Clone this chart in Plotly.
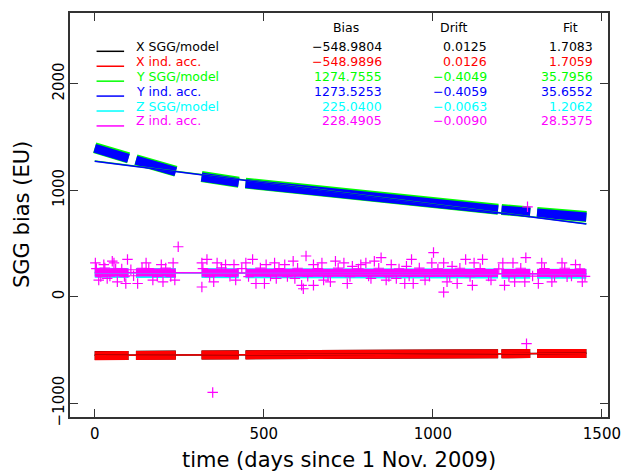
import plotly.graph_objects as go

# ---- legend table values -------------------------------------------------
series_names = ["X SGG/model", "X ind. acc.", "Y SGG/model",
                "Y ind. acc.", "Z SGG/model", "Z ind. acc."]
series_colors = ["#000000", "#ff0000", "#00ff00", "#0000ff", "#00ffff", "#ff00ff"]
bias = [-548.9804, -548.9896, 1274.7555, 1273.5253, 225.0400, 228.4905]
drift = [0.0125, 0.0126, -0.4049, -0.4059, -0.0063, -0.0090]
fit = [1.7083, 1.7059, 35.7956, 35.6552, 1.2062, 28.5375]

# ---- daily bias track (None marks gaps in the record) ---------------------
days = [0, 50, 100, None, 122, 180, 240, None, 316, 370, 426, None,
        446, 500, 600, 700, 800, 900, 1000, 1100, 1193, None,
        1203, 1250, 1288, None, 1308, 1380, 1454]

x_sgg = [-551, -550, -550, None, -549, -548, -547, None, -546, -545, -544, None,
         -544, -543, -542, -540, -539, -538, -536, -535, -534, None,
         -534, -533, -533, None, -532, -532, -531]
x_ind = [-552, -551, -550, None, -550, -549, -548, None, -547, -546, -545, None,
         -545, -544, -542, -541, -540, -538, -537, -536, -535, None,
         -535, -534, -533, None, -533, -532, -531]
y_sgg = [1399, 1351, 1304, None, 1287, 1232, 1179, None, 1129, 1102, 1076, None,
         1067, 1049, 1009, 972, 939, 907, 877, 847, 822, None,
         819, 807, 797, None, 791, 774, 754]
y_ind = [1395, 1347, 1300, None, 1283, 1228, 1175, None, 1125, 1098, 1072, None,
         1063, 1045, 1005, 968, 935, 903, 873, 843, 818, None,
         815, 803, 793, None, 787, 770, 750]
z_sgg = [225, 225, 224, None, 224, 224, 223, None, 223, 222, 222, None,
         222, 222, 221, 220, 220, 219, 219, 218, 218, None,
         217, 217, 217, None, 217, 216, 216]
z_ind = [229, 229, 228, None, 228, 228, 228, None, 227, 227, 227, None,
         227, 227, 226, 226, 226, 225, 225, 225, 224, None,
         224, 224, 224, None, 224, 223, 223]

# scattered Z ind. acc. samples away from the main track
z_out_days = [2, 12, 27, 37, 52, 57, 67, 92, 97, 107, 127, 152, 172, 197, 202, 232,
              237, 247, 317, 317, 332, 349, 352, 362, 387, 412, 417, 447, 467, 477,
              502, 507, 532, 537, 562, 587, 592, 612, 617, 625, 647, 647, 672, 677,
              697, 712, 737, 747, 762, 787, 802, 817, 827, 847, 862, 877, 892, 917,
              922, 937, 942, 977, 1002, 997, 1032, 1032, 1042, 1057, 1072, 1097,
              1117, 1122, 1147, 1172, 1207, 1212, 1237, 1242, 1272, 1275, 1277,
              1280, 1312, 1322, 1352, 1382, 1397, 1422, 1442,
              5, 18, 30, 45, 62, 80, 88, 115, 140, 160, 185, 210, 225, 320, 340,
              375, 400, 435, 455, 490, 520, 545, 570, 600, 630, 660, 690, 720, 755,
              780, 810, 840, 870, 900, 930, 960, 990, 1015, 1050, 1080, 1110, 1140,
              1165, 1195, 1225, 1260, 1295, 1330, 1360, 1390, 1410, 1435, 1450]
z_out_vals = [318, 157, 302, 173, 335, 318, 141, 125, 351, 254, 125, 318, 157, 302,
              141, 318, 157, 470, 318, 92, 351, -897, 141, 318, 302, 302, 157, 318,
              351, 125, 125, 302, 318, 173, 302, 335, 173, 108, 76, 383, 108, 302,
              318, 157, 141, 335, 318, 125, 286, 302, 318, 173, 335, 367, 157, 302,
              173, 125, 286, 351, 125, 157, 415, 318, 318, 44, 141, 286, 125, 351,
              108, 318, 351, 157, 318, 108, 318, 141, 141, 367, -440, 845, 125, 318,
              141, 318, 189, 302, 141,
              265, 190, 270, 195, 262, 262, 190, 198, 268, 265, 192, 270, 190, 265,
              190, 272, 192, 265, 190, 270, 195, 265, 190, 268, 192, 265, 195, 270,
              190, 262, 195, 268, 190, 262, 195, 270, 192, 262, 195, 268, 190, 265,
              195, 262, 190, 268, 195, 265, 190, 268, 195, 262, 192]

fit_days = [0, 1454]

x_ticks = [0, 500, 1000, 1500]
y_ticks = [-1000, 0, 1000, 2000]

tracks = [x_sgg, x_ind, y_sgg, y_ind, z_sgg, z_ind]
track_width = [9, 9, 11, 9, 10, 8]

fig = go.Figure()

for k in range(6):
    fig.add_trace(go.Scatter(
        x=days, y=tracks[k], mode="lines", name=series_names[k],
        line=dict(color=series_colors[k], width=track_width[k]),
        connectgaps=False, hoverinfo="skip"))
    if k == 5:
        fig.add_trace(go.Scatter(
            x=z_out_days, y=z_out_vals, mode="markers", name=series_names[k],
            marker=dict(symbol="cross-thin", size=7.5,
                        line=dict(color=series_colors[k], width=1.2))))

# linear fits: bias + drift * t
for k in range(6):
    fig.add_trace(go.Scatter(
        x=fit_days, y=[bias[k] + drift[k] * d for d in fit_days], mode="lines",
        line=dict(color=series_colors[k], width=1.5), hoverinfo="skip"))

# ---- page geometry --------------------------------------------------------
W, H = 632, 473
L, R, T, B = 70, 15, 11, 56
pw, ph = W - L - R, H - T - B


def px(xp):
    return (xp - L) / pw


def py(yp):
    return (H - B - yp) / ph


FONT = "DejaVu Sans"
TSIZE = 12.5
ann = []
shapes = []

# column headers
for label, xc in [("Bias", 351), ("Drift", 460), ("Fit", 579)]:
    ann.append(dict(text=label, x=px(xc), y=py(26), xanchor="center",
                    yanchor="middle", showarrow=False, borderpad=0,
                    font=dict(family=FONT, size=TSIZE, color="black")))

row0, drow = 44.5, 15.0
for k in range(6):
    yc = row0 + k * drow
    c = series_colors[k]
    shapes.append(dict(type="line", xref="paper", yref="paper",
                       x0=px(97), x1=px(125), y0=py(yc + 5), y1=py(yc + 5),
                       line=dict(color=c, width=1.5)))
    ann.append(dict(text=series_names[k], x=px(136), y=py(yc), xanchor="left",
                    yanchor="middle", showarrow=False, borderpad=0,
                    font=dict(family=FONT, size=TSIZE, color=c)))
    for val, xr in [(bias[k], 388), (drift[k], 495), (fit[k], 603)]:
        ann.append(dict(text=f"{val:.4f}".replace("-", "\u2212"), x=px(xr),
                        y=py(yc), xanchor="right", yanchor="middle",
                        showarrow=False, borderpad=0,
                        font=dict(family=FONT, size=TSIZE, color=c)))

# axis titles
ann.append(dict(text="time (days since 1 Nov. 2009)", x=0.5, y=0, xref="paper",
                yref="paper", yshift=-43, xanchor="center", yanchor="middle",
                showarrow=False, font=dict(family=FONT, size=21, color="black")))
ann.append(dict(text="SGG bias (EU)", x=0, y=0.5, xref="paper", yref="paper",
                xshift=-48, xanchor="center", yanchor="middle", textangle=-90,
                showarrow=False, font=dict(family=FONT, size=21, color="black")))

for a in ann:
    a.setdefault("xref", "paper")
    a.setdefault("yref", "paper")

axis_common = dict(showline=True, linecolor="#333333", linewidth=1.5, mirror="ticks",
                   ticks="inside", ticklen=8, tickwidth=1.2, tickcolor="#333333",
                   showgrid=False, zeroline=False,
                   tickfont=dict(family=FONT, size=15, color="black"))

fig.update_layout(
    width=W, height=H,
    margin=dict(l=L, r=R, t=T, b=B),
    paper_bgcolor="white", plot_bgcolor="white",
    showlegend=False,
    annotations=ann, shapes=shapes,
    xaxis=dict(range=[-73, 1518], tickvals=x_ticks, ticklabelstandoff=2,
               **axis_common),
    yaxis=dict(range=[-1128, 2664], tickvals=y_ticks, tickangle=-90,
               ticklabelstandoff=-2, **axis_common),
)

fig.write_html("out.html")
